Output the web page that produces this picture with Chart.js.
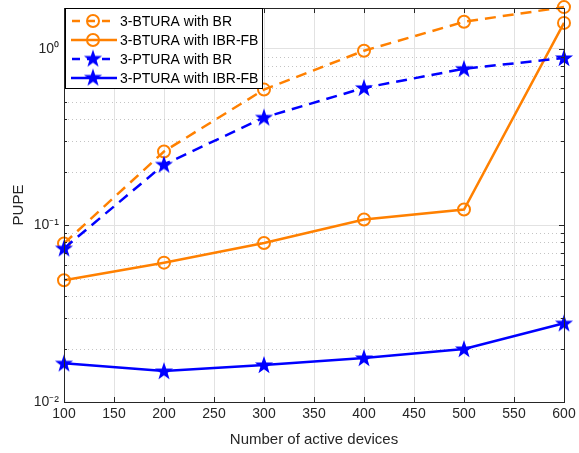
<!DOCTYPE html>
<html>
<head>
<meta charset="utf-8">
<script src="https://cdn.jsdelivr.net/npm/chart.js@4"></script>
<style>html,body{margin:0;padding:0;background:#fff}</style>
</head>
<body>
<canvas id="myChart" width="579" height="453"></canvas>
<script>
// values
const devices = [100, 200, 300, 400, 500, 600];
const bturaBR = [0.079, 0.262, 0.587, 0.974, 1.42, 1.72];
const bturaIBR = [0.0489, 0.0615, 0.0794, 0.108, 0.123, 1.40];
const pturaBR = [0.0741, 0.221, 0.408, 0.60, 0.77, 0.886];
const pturaIBR = [0.01655, 0.01496, 0.0162, 0.01774, 0.01994, 0.0279];

const xTicks = [100, 150, 200, 250, 300, 350, 400, 450, 500, 550, 600];
const yMajor = [0.01, 0.1, 1];
const yMajorLabels = ['10\u207B\u00B2', '10\u207B\u00B9', '10\u2070'];
const yMinor = [0.02, 0.03, 0.04, 0.05, 0.06, 0.07, 0.08, 0.09, 0.2, 0.3, 0.4, 0.5, 0.6, 0.7, 0.8, 0.9];

const orange = '#FF8000';
const blue = '#0000FF';
const axisColor = '#262626';
const fontFamily = '"Liberation Sans", Arial, Helvetica, sans-serif';

Chart.defaults.font.family = fontFamily;
Chart.defaults.color = axisColor;

// filled five point star marker
function makeStar(color) {
    const c = document.createElement('canvas');
    c.width = 20; c.height = 20;
    const g = c.getContext('2d');
    g.beginPath();
    for (let i = 0; i < 10; i++) {
        const r = i % 2 === 0 ? 9.5 : 3.8;
        const a = -Math.PI / 2 + i * Math.PI / 5;
        const px = 10 + r * Math.cos(a), py = 10.5 + r * Math.sin(a);
        if (i === 0) g.moveTo(px, py); else g.lineTo(px, py);
    }
    g.closePath();
    g.fillStyle = color;
    g.fill();
    return c;
}
const star = makeStar(blue);

const toXY = arr => devices.map((d, i) => ({x: d, y: arr[i]}));

function series(label, data, color, dashed, marker, order) {
    return {
        label: label,
        data: toXY(data),
        borderColor: color,
        borderWidth: 2.5,
        borderDash: dashed ? [11, 7] : [],
        pointStyle: marker === 'star' ? star : 'circle',
        pointRadius: 6,
        pointHoverRadius: 6,
        pointBorderWidth: 2,
        pointBorderColor: color,
        pointBackgroundColor: 'rgba(0,0,0,0)',
        fill: false,
        tension: 0,
        clip: false,
        order: order,
        _dashed: dashed,
        _marker: marker
    };
}

const matlabAxes = {
    id: 'matlabAxes',
    beforeDatasetsDraw(chart) {
        const {ctx, chartArea: a, scales: {y}} = chart;
        ctx.save();
        ctx.strokeStyle = '#c4c4c4';
        ctx.lineWidth = 1;
        ctx.setLineDash([1, 3]);
        yMinor.forEach(v => {
            const py = Math.round(y.getPixelForValue(v)) + 0.5;
            ctx.beginPath();
            ctx.moveTo(a.left, py);
            ctx.lineTo(a.right, py);
            ctx.stroke();
        });
        ctx.restore();
    },
    afterDatasetsDraw(chart) {
        const {ctx, chartArea: a, scales: {x, y}} = chart;
        ctx.save();
        ctx.strokeStyle = axisColor;
        ctx.lineWidth = 1;
        ctx.setLineDash([]);
        ctx.beginPath();
        xTicks.forEach(v => {
            const px = Math.round(x.getPixelForValue(v)) + 0.5;
            ctx.moveTo(px, a.bottom); ctx.lineTo(px, a.bottom - 5);
            ctx.moveTo(px, a.top); ctx.lineTo(px, a.top + 5);
        });
        yMajor.forEach(v => {
            const py = Math.round(y.getPixelForValue(v)) + 0.5;
            ctx.moveTo(a.left, py); ctx.lineTo(a.left + 5, py);
            ctx.moveTo(a.right, py); ctx.lineTo(a.right - 5, py);
        });
        yMinor.forEach(v => {
            const py = Math.round(y.getPixelForValue(v)) + 0.5;
            ctx.moveTo(a.left, py); ctx.lineTo(a.left + 3, py);
            ctx.moveTo(a.right, py); ctx.lineTo(a.right - 3, py);
        });
        ctx.stroke();
        ctx.strokeRect(Math.round(a.left) + 0.5, Math.round(a.top) + 0.5,
            Math.round(a.right - a.left), Math.round(a.bottom - a.top));
        ctx.restore();
    },
    afterDraw(chart) {
        // legend box in the upper left corner of the axes
        const {ctx, chartArea: a} = chart;
        const bx = a.left + 1, by = a.top, bw = 197, bh = 80;
        ctx.save();
        ctx.fillStyle = '#fff';
        ctx.fillRect(bx, by, bw, bh);
        ctx.strokeStyle = '#000';
        ctx.lineWidth = 1;
        ctx.strokeRect(bx + 0.5, by + 0.5, bw, bh);
        ctx.font = '14px ' + fontFamily;
        ctx.textBaseline = 'middle';
        chart.data.datasets.forEach((ds, i) => {
            const cy = by + 13 + i * 19;
            const x0 = bx + 6, x1 = bx + 52, mx = bx + 28;
            ctx.strokeStyle = ds.borderColor;
            ctx.lineWidth = 2.5;
            ctx.setLineDash(ds._dashed ? [8, 7] : []);
            ctx.lineDashOffset = ds._dashed ? -1 : 0;
            ctx.beginPath();
            ctx.moveTo(x0, cy); ctx.lineTo(x1, cy);
            ctx.stroke();
            ctx.setLineDash([]);
            if (ds._marker === 'star') {
                ctx.drawImage(star, mx - 10, cy - 10.5);
            } else {
                ctx.lineWidth = 2;
                ctx.beginPath();
                ctx.arc(mx, cy, 6, 0, Math.PI * 2);
                ctx.stroke();
            }
            ctx.fillStyle = '#000';
            ctx.fillText(ds.label, bx + 55, cy + 1);
        });
        ctx.restore();
    }
};

const ctx = document.getElementById('myChart').getContext('2d');
new Chart(ctx, {
    type: 'line',
    data: {
        datasets: [
            series('3-BTURA with BR', bturaBR, orange, true, 'circle', 4),
            series('3-BTURA with IBR-FB', bturaIBR, orange, false, 'circle', 3),
            series('3-PTURA with BR', pturaBR, blue, true, 'star', 2),
            series('3-PTURA with IBR-FB', pturaIBR, blue, false, 'star', 1)
        ]
    },
    options: {
        responsive: false,
        animation: false,
        events: [],
        layout: {padding: {left: 0, right: 15, top: 7, bottom: 0}},
        plugins: {legend: {display: false}, tooltip: {enabled: false}},
        scales: {
            x: {
                type: 'linear',
                min: 100,
                max: 600,
                afterBuildTicks: s => { s.ticks = xTicks.map(v => ({value: v})); },
                afterFit: s => { s.height = 51; s.paddingLeft = 0; s.paddingRight = 0; },
                ticks: {font: {size: 14}, padding: 4, maxRotation: 0},
                grid: {color: '#e2e2e2', drawTicks: false},
                border: {display: false},
                title: {display: true, text: 'Number of active devices', font: {size: 15}, padding: {top: 0, bottom: 4}}
            },
            y: {
                type: 'logarithmic',
                min: 0.01,
                max: 1.7,
                afterBuildTicks: s => { s.ticks = yMajor.map(v => ({value: v})); },
                afterFit: s => { s.width = 64; s.paddingTop = 0; s.paddingBottom = 0; },
                ticks: {
                    font: {size: 14},
                    padding: 5,
                    callback: (v) => {
                        const k = yMajor.indexOf(v);
                        return k >= 0 ? yMajorLabels[k] : '';
                    }
                },
                grid: {color: '#e2e2e2', drawTicks: false},
                border: {display: false},
                title: {display: true, text: 'PUPE', font: {size: 15}, padding: {top: 10, bottom: 4}}
            }
        }
    },
    plugins: [matlabAxes]
});
</script>
</body>
</html>
